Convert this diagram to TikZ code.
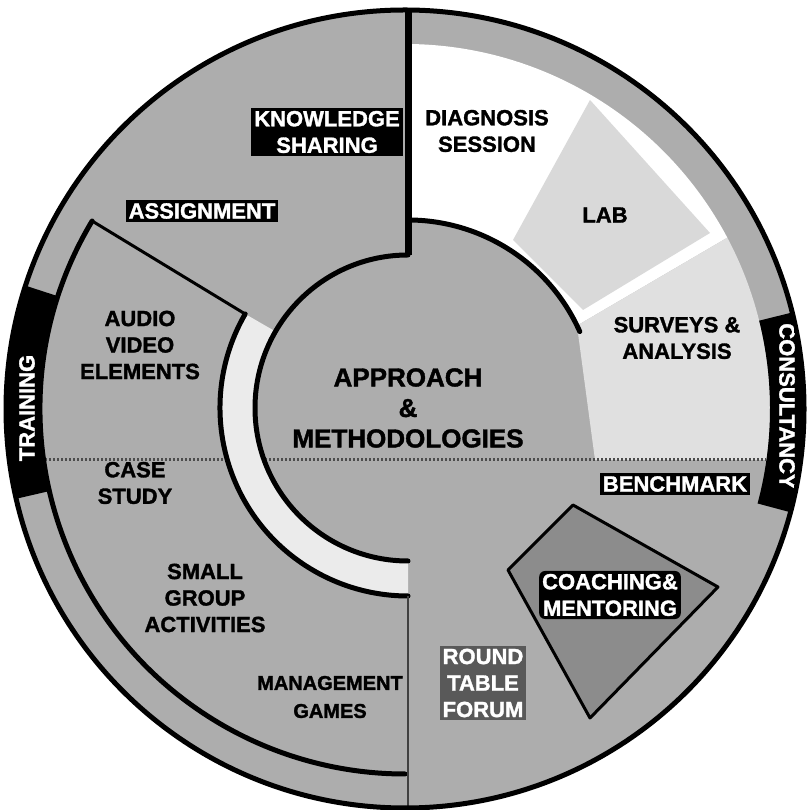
\documentclass[tikz,border=0pt]{standalone}
\usepackage{fontspec}
\setmainfont{Liberation Sans}[BoldFeatures={FakeBold=1.5}]
\usetikzlibrary{calc}

\tikzset{
  lbl/.style={font=\fontsize{22}{26.5}\selectfont\bfseries, align=center, inner sep=2pt},
  rev/.style={lbl, fill=black, text=white, inner sep=3pt},
  rim/.style={line width=5pt, line cap=round},
}

\begin{document}
\begin{tikzpicture}[x=1pt, y=1pt]
  \useasboundingbox (0,0) rectangle (807,810);
  \coordinate (O) at (405,401);
  \coordinate (M) at (408,402);

  % fields
  \fill[black!32] (O) circle[radius=399];
  \fill[white] ($(O)+(90:365)$) arc[start angle=90, end angle=28, radius=365]
    -- ($(M)+(26:188)$) arc[start angle=26, end angle=90, radius=188] -- cycle;
  \fill[black!12] ($(M)+(26:188)$) -- ($(O)+(28:365)$) arc[start angle=28, end angle=-8, radius=365]
    -- (595,350) -- cycle;
  \fill[black!15] (590,710) -- (710,577) -- (583,500) -- (513,570) -- cycle;

  % dotted split
  \coordinate (splitL) at (45,350);
  \coordinate (splitR) at (766,350);
  \draw[black!70, line width=3pt, dash pattern=on 2pt off 2pt] (splitL) -- (splitR);

  % the C band
  \fill[black!8] ($(M)+(150:188)$) arc[start angle=150, end angle=270, radius=188]
    -- ($(M)+(270:153)$) arc[start angle=270, end angle=150, radius=153] -- cycle;

  % coaching kite
  \coordinate (kT) at (573,305);
  \coordinate (kR) at (718,223);
  \coordinate (kB) at (590,92);
  \coordinate (kL) at (508,240);
  \filldraw[fill=black!45, line width=3pt, line join=round] (kT) -- (kR) -- (kB) -- (kL) -- cycle;

  % lines
  \coordinate (ringA) at ($(O)+(149:365)$);
  \coordinate (cA) at ($(M)+(150:188)$);
  \draw[rim] (ringA) arc[start angle=149, end angle=270, radius=365];
  \draw[line width=3pt] (ringA) -- (cA);
  \draw[rim] (cA) arc[start angle=150, end angle=270, radius=188];
  \draw[rim] ($(M)+(90:153)$) arc[start angle=90, end angle=270, radius=153];
  \draw[rim] ($(M)+(90:188)$) arc[start angle=90, end angle=24, radius=188];
  \draw[line width=7pt] (408,800) -- (408,555);
  \draw[black!75, line width=2pt] (408,214) -- (408,2);
  \draw[line width=5pt] (O) circle[radius=399];

  % side bands
  \fill[black] ($(O)+(162:398)$) arc[start angle=162, end angle=193, radius=398]
    -- ($(O)+(193:365)$) arc[start angle=193, end angle=162, radius=365] -- cycle;
  \fill[black] ($(O)+(14:398)$) arc[start angle=14, end angle=-15, radius=398]
    -- ($(O)+(-15:365)$) arc[start angle=-15, end angle=14, radius=365] -- cycle;

  % labels
  \node[rev] (know) at (327,678) {KNOWLEDGE\\SHARING};
  \node[rev] (assign) at (202,599) {ASSIGNMENT};
  \node[lbl] (diag) at (487,679) {DIAGNOSIS\\SESSION};
  \node[lbl] (lab) at (605,595) {LAB};
  \node[lbl] (surv) at (677,472) {SURVEYS \&\\ANALYSIS};
  \node[lbl, font=\fontsize{26}{30.5}\selectfont\bfseries] (appr) at (408,402) {APPROACH\\\&\\METHODOLOGIES};
  \node[lbl] (audio) at (140,465) {AUDIO\\VIDEO\\ELEMENTS};
  \node[lbl] (case) at (135,327) {CASE\\STUDY};
  \node[lbl] (small) at (205,212) {SMALL\\GROUP\\ACTIVITIES};
  \node[lbl, font=\fontsize{20}{28}\selectfont\bfseries] (games) at (330,113) {MANAGEMENT\\GAMES};
  \node[rev, fill=black!65] (round) at (483,127) {ROUND\\TABLE\\FORUM};
  \node[rev] (bench) at (675,326) {BENCHMARK};
  \node[rev, rounded corners=6pt] (coach) at (610,215) {COACHING\&\\MENTORING};
  \node[lbl, text=white, rotate=90] (train) at (27,402) {TRAINING};
  \begin{scope}
    \clip (O) circle[radius=397];
    \node[lbl, text=white, rotate=-90] (consult) at (787,404) {CONSULTANCY};
  \end{scope}
\end{tikzpicture}
\end{document}
